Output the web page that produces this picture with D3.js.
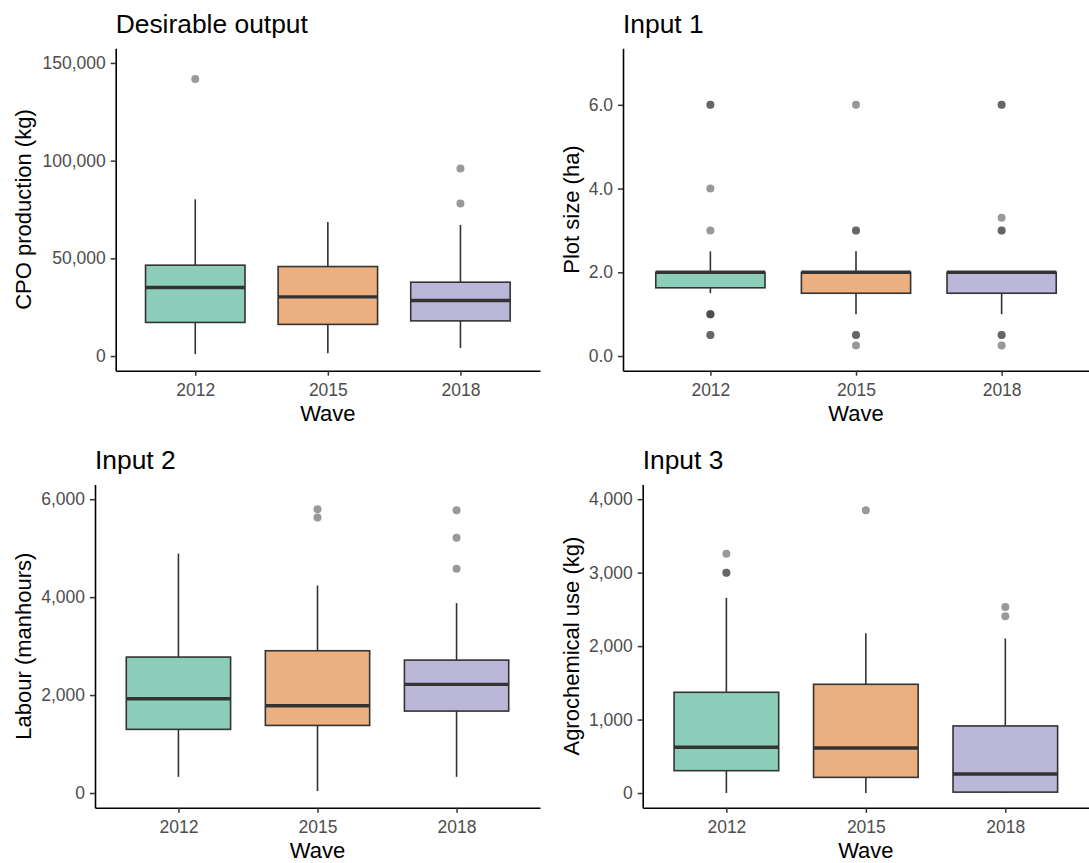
<!DOCTYPE html>
<html>
<head>
<meta charset="utf-8">
<script src="https://cdn.jsdelivr.net/npm/d3@7"></script>
<style>
  html, body { margin: 0; padding: 0; background: #ffffff; }
  svg { display: block; }
  text { font-family: "Liberation Sans", Arial, Helvetica, sans-serif; }
</style>
</head>
<body>
<svg id="chart" width="1089" height="863"></svg>
<script>
// ---------------- DATA ----------------
const waves = ["2012", "2015", "2018"];
const waveColors = ["#1B9E77", "#D95F02", "#7570B3"];

// Desirable output: CPO production (kg) — [whiskerLow, Q1, median, Q3, whiskerHigh] per wave
const cpoStats = [
  [1000, 17200, 35100, 46500, 80200],
  [1400, 16200, 30300, 45800, 68600],
  [4100, 18000, 28400, 37800, 67100]
];
const cpoOutliers = [[141800], [], [96000, 78100]];
const cpoTicks = [0, 50000, 100000, 150000];
const cpoLimits = [0, 150000];

// Input 1: Plot size (ha)
const plotStats = [
  [1.5, 1.63, 2.0, 2.0, 2.5],
  [1.0, 1.5, 2.0, 2.0, 2.5],
  [1.0, 1.5, 2.0, 2.0, 2.0]
];
const plotOutliers = [
  [6, 6, 4, 3, 1, 1, 1, 0.5, 0.5],
  [6, 3, 3, 0.5, 0.5, 0.25],
  [6, 6, 3.3, 3, 3, 0.5, 0.5, 0.25]
];
const plotTicks = [0, 2, 4, 6];
const plotLimits = [0, 7];

// Input 2: Labour (manhours)
const labourStats = [
  [330, 1300, 1925, 2776, 4890],
  [40, 1380, 1782, 2905, 4238],
  [330, 1673, 2218, 2714, 3878]
];
const labourOutliers = [[], [5796, 5626], [5776, 5211, 4578]];
const labourTicks = [0, 2000, 4000, 6000];
const labourLimits = [0, 6000];

// Input 3: Agrochemical use (kg)
const agroStats = [
  [0, 304, 622, 1371, 2657],
  [0, 213, 613, 1480, 2175],
  [0, 12, 259, 913, 2103]
];
const agroOutliers = [[3256, 3000, 3000], [3851], [2534, 2407]];
const agroTicks = [0, 1000, 2000, 3000, 4000];
const agroLimits = [0, 4000];

// ---------------- DRAW ----------------
const svg = d3.select("#chart");
svg.append("rect").attr("width", 1089).attr("height", 863).attr("fill", "#ffffff");

function drawPanel(cfg) {
  const g = svg.append("g");
  const [lo, hi] = cfg.limits;
  const pad = (hi - lo) * 0.05;
  const y = d3.scaleLinear().domain([lo - pad, hi + pad]).range([cfg.bottom, cfg.top]);
  const x = d3.scalePoint().domain(waves).range([cfg.left, cfg.right]).padding(0.6);
  const bw = x.step() * 0.75;

  // boxes
  cfg.stats.forEach((s, i) => {
    const cx = x(waves[i]);
    const [wl, q1, med, q3, wh] = s;
    const bg = g.append("g");
    bg.append("line").attr("x1", cx).attr("x2", cx).attr("y1", y(q3)).attr("y2", y(wh))
      .attr("stroke", "#333333").attr("stroke-width", 1.6);
    bg.append("line").attr("x1", cx).attr("x2", cx).attr("y1", y(q1)).attr("y2", y(wl))
      .attr("stroke", "#333333").attr("stroke-width", 1.6);
    bg.append("rect").attr("x", cx - bw / 2).attr("width", bw)
      .attr("y", y(q3)).attr("height", Math.max(0, y(q1) - y(q3)))
      .attr("fill", waveColors[i]).attr("fill-opacity", 0.5)
      .attr("stroke", "#333333").attr("stroke-width", 1.6);
    bg.append("line").attr("x1", cx - bw / 2).attr("x2", cx + bw / 2)
      .attr("y1", y(med)).attr("y2", y(med))
      .attr("stroke", "#333333").attr("stroke-width", 3.4);
    cfg.outliers[i].forEach(v => {
      bg.append("circle").attr("cx", cx).attr("cy", y(v)).attr("r", 4)
        .attr("fill", "#333333").attr("fill-opacity", 0.5);
    });
  });

  // y axis
  const ya = g.append("g").attr("transform", `translate(${cfg.left},0)`)
    .call(d3.axisLeft(y).tickValues(cfg.ticks).tickFormat(cfg.fmt).tickSize(5).tickPadding(5).tickSizeOuter(0));
  ya.select(".domain").attr("stroke", "#000000").attr("stroke-width", 1.6);
  ya.selectAll(".tick line").attr("stroke", "#333333").attr("stroke-width", 1.5);
  ya.selectAll(".tick text").attr("fill", "#4D4D4D").style("font-size", "17.5px")
    .style("font-family", "'Liberation Sans', Arial, sans-serif");

  // x axis
  const xa = g.append("g").attr("transform", `translate(0,${cfg.bottom})`)
    .call(d3.axisBottom(x).tickSize(5).tickSizeOuter(0));
  xa.select(".domain").attr("stroke", "#000000").attr("stroke-width", 1.6);
  xa.selectAll(".tick line").attr("stroke", "#333333").attr("stroke-width", 1.5);
  xa.selectAll(".tick text").attr("fill", "#4D4D4D").style("font-size", "17.5px")
    .attr("y", 25).attr("dy", 0)
    .style("font-family", "'Liberation Sans', Arial, sans-serif");

  // x title
  g.append("text").attr("x", (cfg.left + cfg.right) / 2).attr("y", cfg.bottom + 50)
    .attr("text-anchor", "middle").style("font-size", "22px").attr("fill", "#000000")
    .text("Wave");

  // y title
  const cy = (cfg.top + cfg.bottom) / 2;
  g.append("text").attr("transform", `translate(${cfg.ytitleX},${cy}) rotate(-90)`)
    .attr("text-anchor", "middle").style("font-size", "22px").attr("fill", "#000000")
    .text(cfg.ytitle);

  // plot title
  g.append("text").attr("x", cfg.left).attr("y", cfg.top - 15.5)
    .style("font-size", "26.4px").attr("fill", "#000000")
    .text(cfg.title);
}

const fmtComma = d3.format(",");
const fmtOne = d3.format(".1f");

drawPanel({ title: "Desirable output", ytitle: "CPO production (kg)",
  left: 115.7, right: 540, top: 48.3, bottom: 370.7, ytitleX: 30.8,
  limits: cpoLimits, ticks: cpoTicks, fmt: fmtComma, stats: cpoStats, outliers: cpoOutliers });

drawPanel({ title: "Input 1", ytitle: "Plot size (ha)",
  left: 623, right: 1089, top: 48.3, bottom: 370.7, ytitleX: 579,
  limits: plotLimits, ticks: plotTicks, fmt: fmtOne, stats: plotStats, outliers: plotOutliers });

drawPanel({ title: "Input 2", ytitle: "Labour (manhours)",
  left: 95, right: 540, top: 484.5, bottom: 807.7, ytitleX: 30.8,
  limits: labourLimits, ticks: labourTicks, fmt: fmtComma, stats: labourStats, outliers: labourOutliers });

drawPanel({ title: "Input 3", ytitle: "Agrochemical use (kg)",
  left: 642.7, right: 1089, top: 484.5, bottom: 807.7, ytitleX: 579,
  limits: agroLimits, ticks: agroTicks, fmt: fmtComma, stats: agroStats, outliers: agroOutliers });
</script>
</body>
</html>
